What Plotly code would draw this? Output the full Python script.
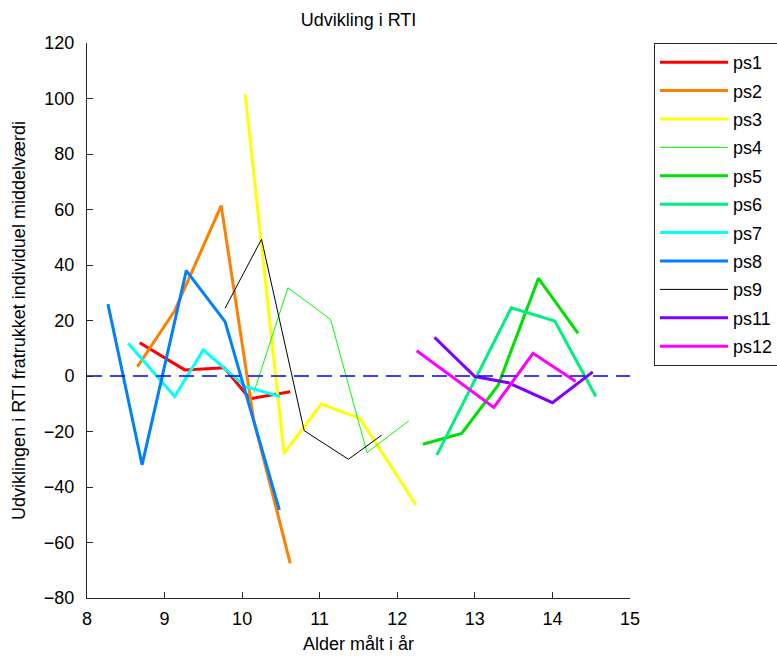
import plotly.graph_objects as go

# Age (years) and RTI development with the individual mean subtracted, per participant
ps1_x = [8.68, 9.26, 9.77, 10.10, 10.62]
ps1_y = [12.0, 2.2, 3.0, -8.2, -5.7]
ps2_x = [8.65, 9.13, 9.73, 10.15, 10.62]
ps2_y = [3.4, 23.5, 61.4, -16.0, -67.5]
ps3_x = [10.04, 10.54, 11.02, 11.52, 12.24]
ps3_y = [101.5, -27.9, -10.1, -15.3, -46.5]
ps4_x = [10.15, 10.59, 11.14, 11.61, 12.15]
ps4_y = [-6.0, 31.8, 20.4, -27.6, -16.1]
ps5_x = [12.33, 12.83, 13.30, 13.82, 14.33]
ps5_y = [-24.6, -20.7, -3.3, 35.2, 15.4]
ps6_x = [12.51, 13.47, 14.03, 14.56]
ps6_y = [-28.5, 24.6, 19.8, -7.4]
ps7_x = [8.53, 9.13, 9.50, 10.04, 10.49]
ps7_y = [11.8, -7.4, 9.4, -3.8, -7.4]
ps8_x = [8.27, 8.71, 9.28, 9.78, 10.48]
ps8_y = [25.9, -32.0, 38.0, 19.6, -48.3]
ps9_x = [9.78, 10.25, 10.80, 11.37, 11.80]
ps9_y = [24.4, 49.3, -19.7, -30.0, -21.3]
ps11_x = [12.48, 13.00, 13.43, 14.00, 14.52]
ps11_y = [13.9, -0.2, -2.4, -9.6, 1.5]
ps12_x = [12.25, 13.245, 13.75, 14.30]
ps12_y = [9.1, -11.3, 8.2, -2.0]

names = ["ps1", "ps2", "ps3", "ps4", "ps5", "ps6", "ps7", "ps8", "ps9", "ps11", "ps12"]
xs = [ps1_x, ps2_x, ps3_x, ps4_x, ps5_x, ps6_x, ps7_x, ps8_x, ps9_x, ps11_x, ps12_x]
ys = [ps1_y, ps2_y, ps3_y, ps4_y, ps5_y, ps6_y, ps7_y, ps8_y, ps9_y, ps11_y, ps12_y]

colors = ["#FF0000", "#FF8000", "#FFFF00", "#00FF00", "#00E000", "#00F080",
          "#00FFFF", "#0080FF", "#000000", "#8000FF", "#FF00FF"]
widths = [3, 3, 3, 1, 3, 3, 3, 3, 1, 3, 3]

x_range = [8, 15]
y_range = [-80, 120]
x_ticks = [8, 9, 10, 11, 12, 13, 14, 15]
y_ticks = [-80, -60, -40, -20, 0, 20, 40, 60, 80, 100, 120]

FONT = "Liberation Sans"

fig = go.Figure()
for name, x, y, c, w in zip(names, xs, ys, colors, widths):
    fig.add_trace(go.Scatter(
        x=x, y=y, mode="lines", name=name, legendgroup=name,
        line=dict(color=c, width=w),
    ))

# Dashed reference line at zero
fig.add_trace(go.Scatter(
    x=x_range, y=[0, 0], mode="lines", showlegend=False, hoverinfo="skip",
    line=dict(color="#0000FF", width=1.5, dash="15px,8px"),
))

axis_common = dict(
    showline=True, linecolor="#262626", linewidth=1,
    ticks="inside", ticklen=6, tickcolor="#262626", tickwidth=1,
    showgrid=False, zeroline=False, mirror=False,
    tickfont=dict(family=FONT, size=18, color="black"),
)

fig.update_layout(
    width=777, height=656,
    margin=dict(l=87, r=147, t=43, b=58, autoexpand=False),
    paper_bgcolor="white", plot_bgcolor="white",
    font=dict(family=FONT, size=18, color="black"),
    title=dict(text="Udvikling i RTI", x=0.5, xref="paper", xanchor="center",
               y=1 - 20 / 656, yanchor="middle", yref="container",
               font=dict(family=FONT, size=18, color="black")),
    xaxis=dict(range=x_range, tickvals=x_ticks, ticklabelstandoff=4,
               title=dict(text="Alder målt i år", standoff=9,
                          font=dict(family=FONT, size=18)),
               **axis_common),
    yaxis=dict(range=y_range, tickvals=y_ticks, ticklabelstandoff=8,
               title=dict(text="Udviklingen i RTI fratrukket individuel middelværdi",
                          standoff=13, font=dict(family=FONT, size=18)),
               **axis_common),
    legend=dict(
        x=(654 - 87) / 543, xref="paper", xanchor="left",
        y=1.0, yref="paper", yanchor="top",
        bordercolor="#262626", borderwidth=1, bgcolor="white",
        font=dict(family=FONT, size=18, color="black"),
        traceorder="grouped", tracegroupgap=2, itemwidth=68,
    ),
    showlegend=True,
)

fig.write_html("out.html")
